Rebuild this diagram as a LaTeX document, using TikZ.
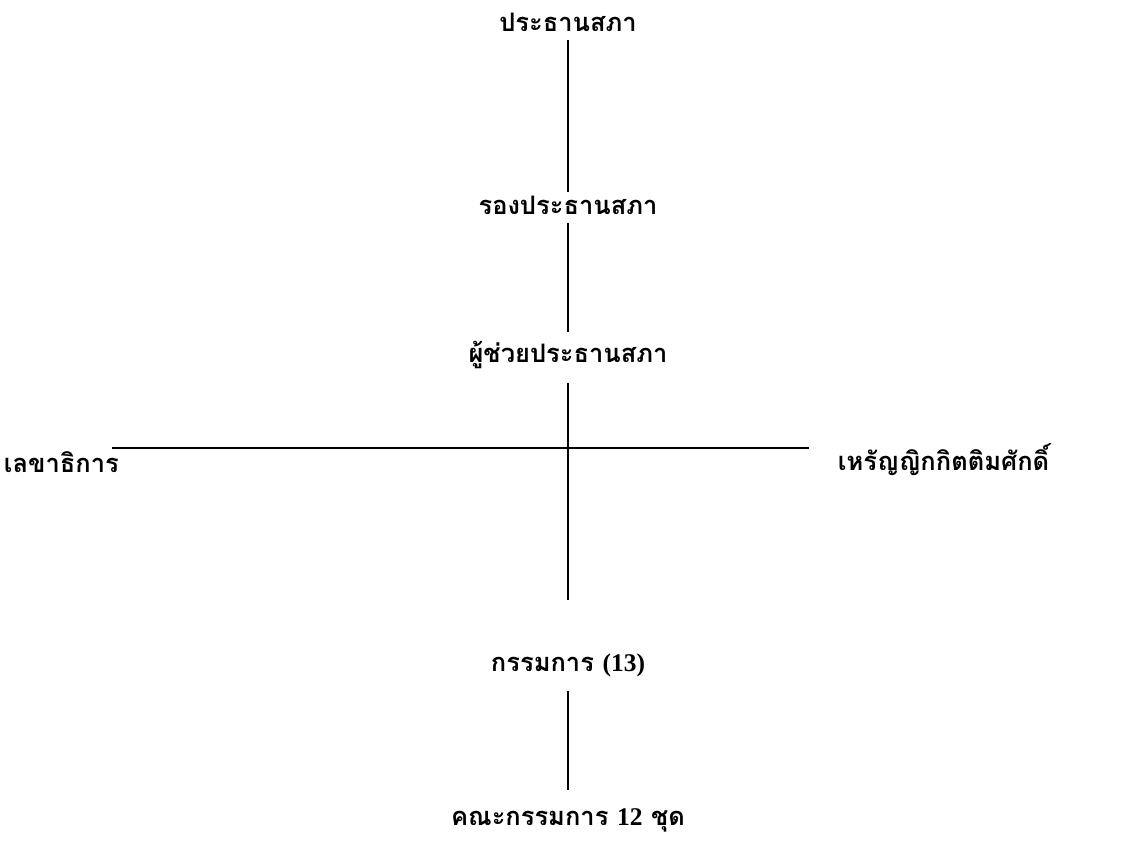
\documentclass[tikz,border=0pt]{standalone}
\usepackage{fontspec}
\newfontfamily\thaifont[Script=Thai]{Loma}
\newfontfamily\numfont{Liberation Serif}
\usetikzlibrary{positioning}

\begin{document}
\begin{tikzpicture}[
    x=0.02cm, y=-0.02cm,
    post/.style={font=\thaifont\bfseries\fontsize{14.5}{18}\selectfont, inner sep=2pt},
    link/.style={draw, line width=1.2pt}
  ]
  \useasboundingbox (0,0) rectangle (1131,848);
  % chain of offices
  \node[post] (pres)  at (568,22)  {ประธานสภา};
  \node[post] (vice)  at (568,205) {รองประธานสภา};
  \node[post] (asst)  at (568,355) {ผู้ช่วยประธานสภา};
  \node[post] (board) at (568,665) {กรรมการ {\numfont(13)}};
  \node[post] (comm)  at (568,820) {คณะกรรมการ {\numfont 12} ชุด};
  \node[post, anchor=west] (sec)   at (0,462)   {เลขาธิการ};
  \node[post, anchor=west] (treas) at (834,460) {เหรัญญิกกิตติมศักดิ์};
  \coordinate (cross) at (568,448);

  \draw[link, shorten <=3pt, shorten >=0pt] (pres) -- (vice);
  \draw[link, shorten <=3pt, shorten >=3pt] (vice) -- (asst);
  \draw[link, shorten <=6pt, shorten >=28pt] (asst) -- (board);
  \draw[link, shorten <=6pt, shorten >=8pt] (board) -- (comm);
  \draw[link] ([xshift=-6pt] sec.east |- cross) -- ([xshift=-14pt] treas.west |- cross);
\end{tikzpicture}
\end{document}
